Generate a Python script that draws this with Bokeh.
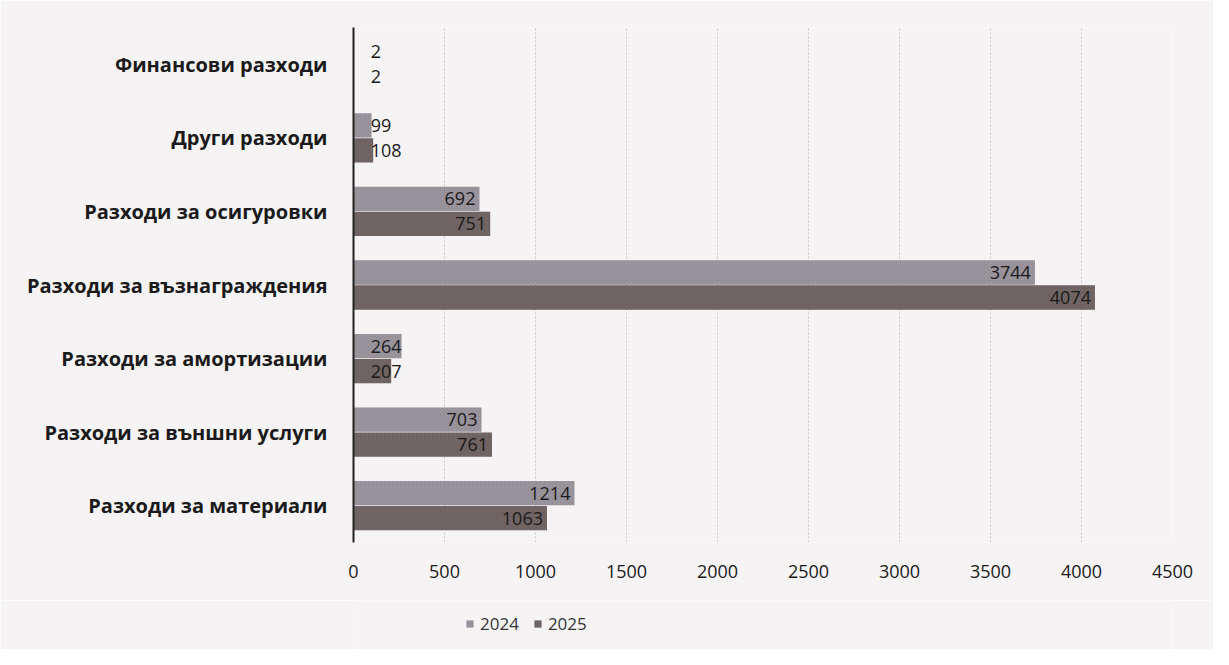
from bokeh.plotting import figure
from bokeh.models import ColumnDataSource, Legend, LegendItem, FixedTicker, FactorRange, Range1d
from bokeh.layouts import column
from bokeh.transform import dodge
from bokeh.core.properties import value
from bokeh.embed import file_html
from bokeh.resources import INLINE

categories = ["Финансови разходи", "Други разходи", "Разходи за осигуровки",
              "Разходи за възнаграждения", "Разходи за амортизации",
              "Разходи за външни услуги", "Разходи за материали"]
values_2024 = [2, 99, 692, 3744, 264, 703, 1214]
values_2025 = [2, 108, 751, 4074, 207, 761, 1063]
x_ticks = [0, 500, 1000, 1500, 2000, 2500, 3000, 3500, 4000, 4500]
series = ["2024", "2025"]

FONT = "Open Sans"
C24 = "#938d96"
C25 = "#6b5f5f"
BG = "#f6f3f5"

factors = list(reversed(categories))
p = figure(width=1213, height=600, y_range=FactorRange(*factors), x_range=(0, 4500),
           output_backend="svg", toolbar_location=None,
           min_border_left=353, min_border_right=41, min_border_top=27, min_border_bottom=58)
p.background_fill_color = BG
p.border_fill_color = BG
p.outline_line_color = None


def label_pos(vals):
    xs, al = [], []
    for v in vals:
        if v < 300:
            xs.append(95)
            al.append("left")
        else:
            xs.append(v - 22)
            al.append("right")
    return xs, al


x24, a24 = label_pos(values_2024)
x25, a25 = label_pos(values_2025)
src = ColumnDataSource(dict(cat=categories, v24=values_2024, v25=values_2025,
                            t24=[str(v) for v in values_2024], t25=[str(v) for v in values_2025],
                            x24=x24, a24=a24, x25=x25, a25=a25))

bar24 = dict(fill_color=C24, line_color=None, hatch_pattern="diagonal_cross",
             hatch_color="#b8b2bb", hatch_alpha=0.35, hatch_scale=4)
bar25 = dict(fill_color=C25, line_color=None, hatch_pattern="diagonal_cross",
             hatch_color="#8a7d7c", hatch_alpha=0.35, hatch_scale=4)

p.hbar(y=dodge("cat", 0.17, range=p.y_range), right="v24", left=0, height=0.33, source=src, **bar24)
p.hbar(y=dodge("cat", -0.17, range=p.y_range), right="v25", left=0, height=0.33, source=src, **bar25)

p.text(x="x24", y=dodge("cat", 0.17, range=p.y_range), text="t24", source=src,
       text_align="a24", text_baseline="middle", text_font=value(FONT),
       text_font_size="18px", text_color="#1a1a1a")
p.text(x="x25", y=dodge("cat", -0.17, range=p.y_range), text="t25", source=src,
       text_align="a25", text_baseline="middle", text_font=value(FONT),
       text_font_size="18px", text_color="#1a1a1a")

# grid
p.xgrid.ticker = FixedTicker(ticks=x_ticks)
p.xgrid.grid_line_color = "#c9c6c9"
p.xgrid.grid_line_dash = "2 2"
p.ygrid.grid_line_color = None

# x axis
p.xaxis.ticker = FixedTicker(ticks=x_ticks)
p.xaxis.axis_line_color = None
p.xaxis.major_tick_line_color = None
p.xaxis.minor_tick_line_color = None
p.xaxis.major_label_standoff = 16
p.xaxis.major_label_text_font = FONT
p.xaxis.major_label_text_font_size = "18px"
p.xaxis.major_label_text_color = "#1a1a1a"

# y axis
p.yaxis.axis_line_color = "#222222"
p.yaxis.axis_line_width = 2
p.yaxis.major_tick_line_color = None
p.yaxis.minor_tick_line_color = None
p.yaxis.major_label_standoff = 20
p.yaxis.major_label_text_font = FONT
p.yaxis.major_label_text_font_size = "20px"
p.yaxis.major_label_text_font_style = "bold"
p.yaxis.major_label_text_color = "#1a1a1a"

# legend strip (its frame is aligned with the main frame by the column layout)
pl = figure(width=1213, height=49, x_range=Range1d(0, 1), y_range=Range1d(0, 1),
            x_axis_location=None, y_axis_location=None,
            output_backend="svg", toolbar_location=None,
            min_border_left=353, min_border_right=41, min_border_top=0, min_border_bottom=0)
pl.grid.visible = False
pl.outline_line_color = None
pl.background_fill_color = BG
pl.border_fill_color = BG
# swatch renderers kept outside the visible range of the strip
l24 = pl.hbar(y=[-5], right=[1], left=0, height=0.5, **bar24)
l25 = pl.hbar(y=[-5], right=[1], left=0, height=0.5, **bar25)
legend = Legend(items=[LegendItem(label=series[0], renderers=[l24]),
                       LegendItem(label=series[1], renderers=[l25])],
                orientation="horizontal", location=(112, 14),
                background_fill_alpha=0, border_line_color=None,
                label_text_font=FONT, label_text_font_size="17px", label_text_color="#333333",
                glyph_width=9, glyph_height=9, spacing=14, label_standoff=6, padding=2, margin=0)
pl.add_layout(legend, "center")

open("out.html", "w").write(file_html(column(p, pl, spacing=0), INLINE))
